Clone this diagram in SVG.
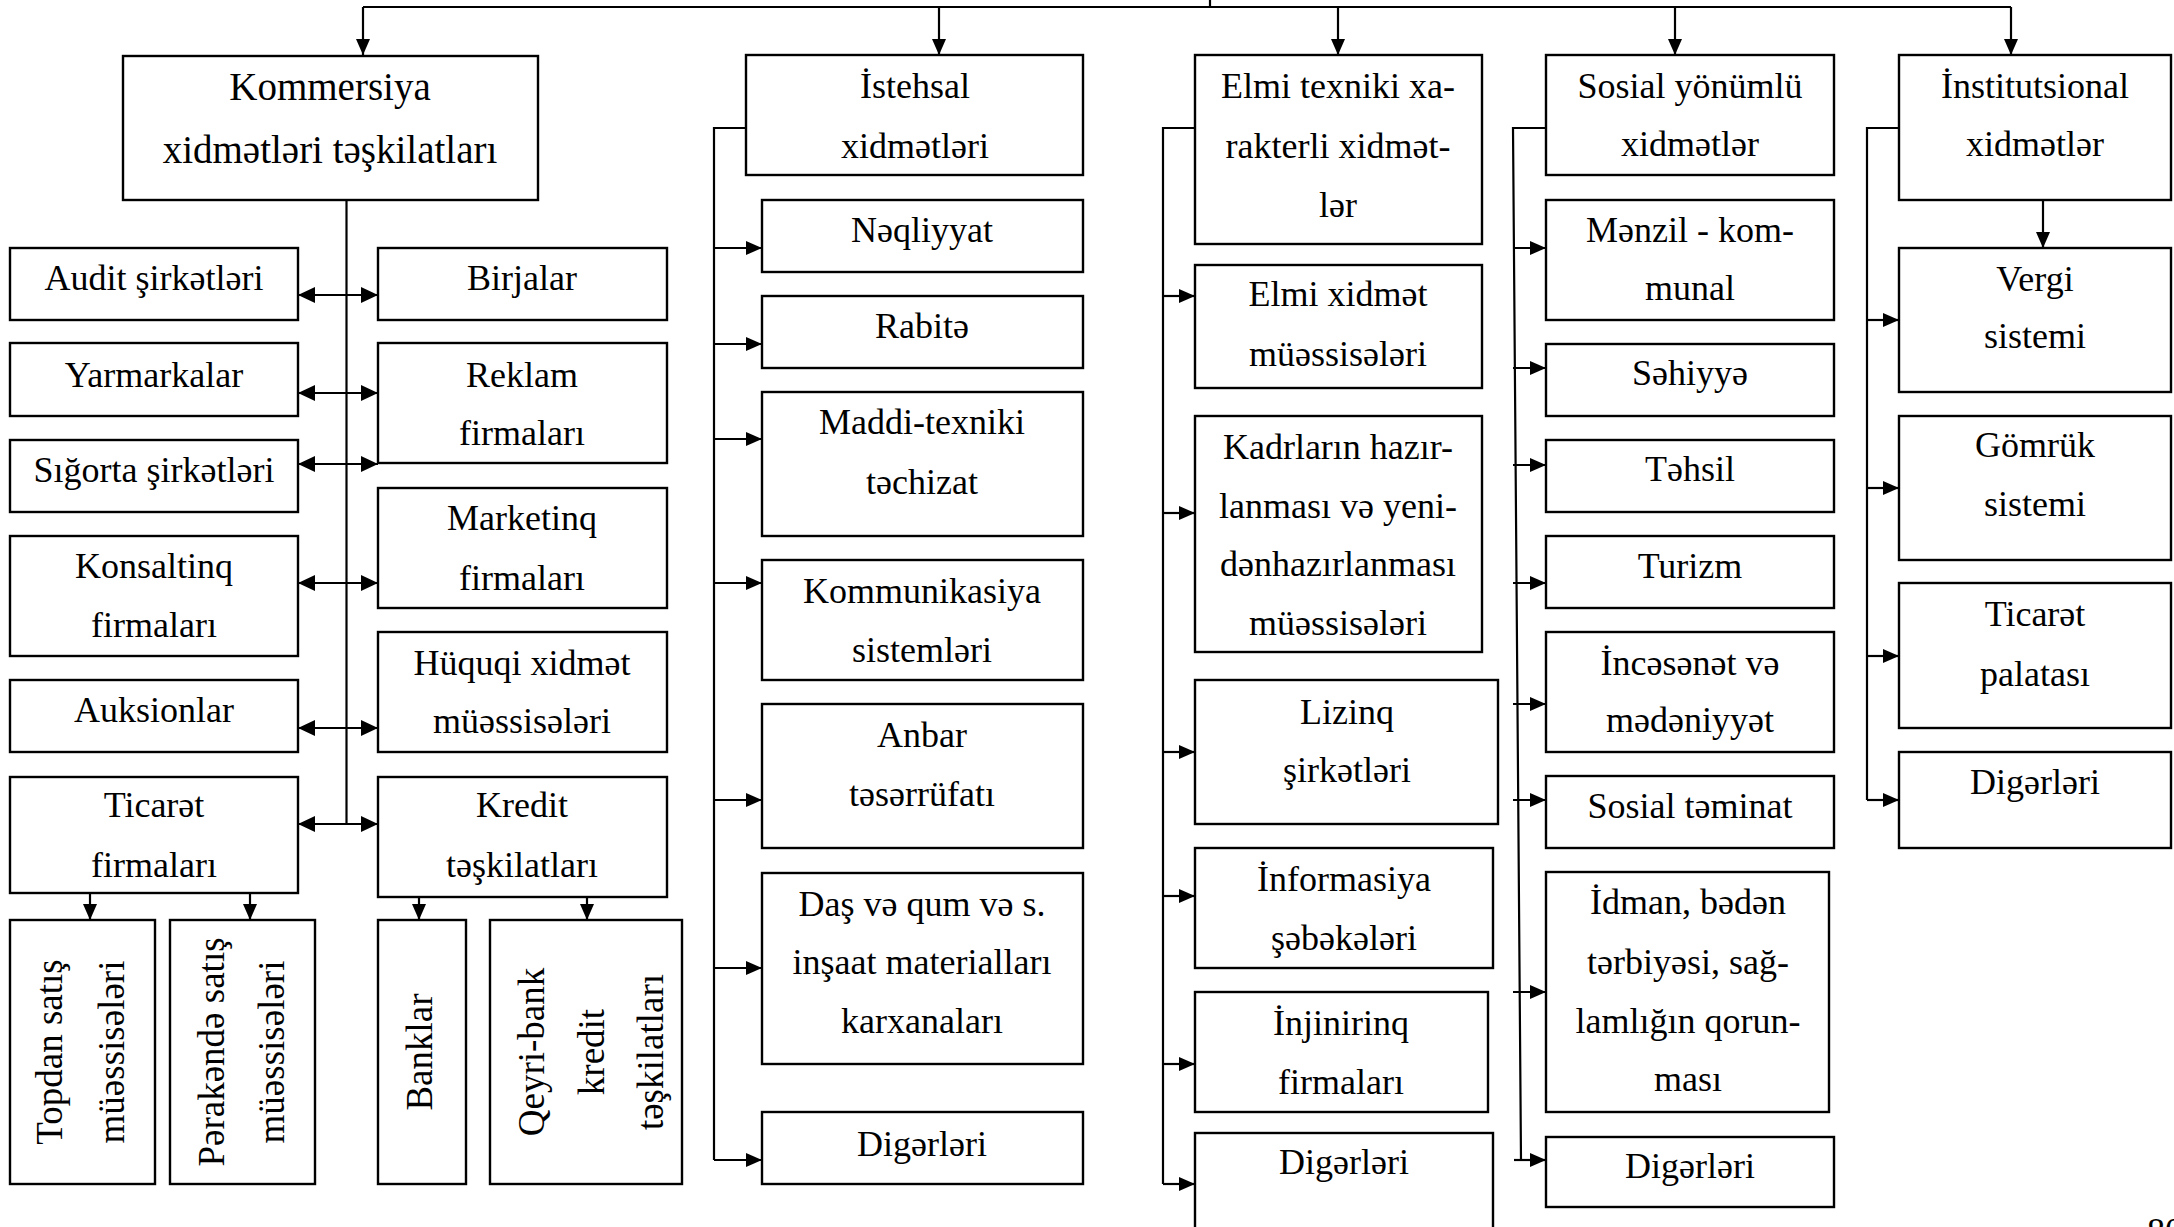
<svg xmlns="http://www.w3.org/2000/svg" width="2174" height="1227" viewBox="0 0 2174 1227">
<style>
.box{fill:#fff;stroke:#000;stroke-width:2.4}
.ln{fill:none;stroke:#000;stroke-width:2.2}
.ar{fill:none;stroke:#000;stroke-width:2.2;marker-end:url(#ah)}
.da{fill:none;stroke:#000;stroke-width:2.2;marker-start:url(#ah2);marker-end:url(#ah2)}
text{font-family:"Liberation Serif","Times New Roman",serif;font-size:36px;fill:#000;text-anchor:middle}
.big{font-size:39px}
.v{font-size:37px}
</style>
<defs>
<marker id="ah" markerUnits="userSpaceOnUse" markerWidth="16" markerHeight="14" refX="16" refY="7" orient="auto"><path d="M0,0 L16,7 L0,14 z" fill="#000"/></marker>
<marker id="ah2" markerUnits="userSpaceOnUse" markerWidth="17" markerHeight="16" refX="17" refY="8" orient="auto-start-reverse"><path d="M0,0 L17,8 L0,16 z" fill="#000"/></marker>
</defs>
<rect width="2174" height="1227" fill="#fff"/>

<g id="connectors">
<path class="ln" d="M363,7 H2011 M1210,0 V7"/>
<path class="ar" d="M363,7 V55"/>
<path class="ar" d="M939,7 V55"/>
<path class="ar" d="M1338,7 V55"/>
<path class="ar" d="M1675,7 V55"/>
<path class="ar" d="M2011,7 V55"/>
<!-- column 1 -->
<path class="ln" d="M346.5,200 V824"/>
<path class="da" d="M298,295 H378"/>
<path class="da" d="M298,393 H378"/>
<path class="da" d="M298,464 H378"/>
<path class="da" d="M298,583 H378"/>
<path class="da" d="M298,728 H378"/>
<path class="da" d="M298,824 H378"/>
<path class="ar" d="M90,893 V920"/>
<path class="ar" d="M250,893 V920"/>
<path class="ar" d="M419,897 V920"/>
<path class="ar" d="M587,897 V920"/>
<!-- column 2 -->
<path class="ln" d="M746,128 H714 V1160"/>
<path class="ar" d="M714,248 H762"/>
<path class="ar" d="M714,344 H762"/>
<path class="ar" d="M714,439 H762"/>
<path class="ar" d="M714,583 H762"/>
<path class="ar" d="M714,800 H762"/>
<path class="ar" d="M714,968 H762"/>
<path class="ar" d="M714,1160 H762"/>
<!-- column 3 -->
<path class="ln" d="M1195,128 H1163 V1184"/>
<path class="ar" d="M1163,296 H1195"/>
<path class="ar" d="M1163,513 H1195"/>
<path class="ar" d="M1163,752 H1195"/>
<path class="ar" d="M1163,896 H1195"/>
<path class="ar" d="M1163,1064 H1195"/>
<path class="ar" d="M1163,1184 H1195"/>
<!-- column 4 -->
<path class="ln" d="M1546,128 H1513 L1521,1160"/>
<path class="ar" d="M1513,248 H1546"/>
<path class="ar" d="M1513,368 H1546"/>
<path class="ar" d="M1513,465 H1546"/>
<path class="ar" d="M1513,583 H1546"/>
<path class="ar" d="M1513,704 H1546"/>
<path class="ar" d="M1513,800 H1546"/>
<path class="ar" d="M1513,992 H1546"/>
<path class="ar" d="M1514,1160 H1546"/>
<!-- column 5 -->
<path class="ar" d="M2043,200 V248"/>
<path class="ln" d="M1899,128 H1867 V800"/>
<path class="ar" d="M1867,320 H1899"/>
<path class="ar" d="M1867,488 H1899"/>
<path class="ar" d="M1867,656 H1899"/>
<path class="ar" d="M1867,800 H1899"/>
</g>

<!-- Column 1 -->
<g id="n-kommersiya"><rect class="box" x="123" y="56" width="415" height="144"/><text class="big" x="330" y="100">Kommersiya</text><text class="big" x="330" y="163">xidmətləri təşkilatları</text></g>
<g id="n-audit"><rect class="box" x="10" y="248" width="288" height="72"/><text x="154" y="290">Audit şirkətləri</text></g>
<g id="n-birjalar"><rect class="box" x="378" y="248" width="289" height="72"/><text x="522" y="290">Birjalar</text></g>
<g id="n-yarmarkalar"><rect class="box" x="10" y="343" width="288" height="73"/><text x="154" y="387">Yarmarkalar</text></g>
<g id="n-reklam"><rect class="box" x="378" y="343" width="289" height="120"/><text x="522" y="387">Reklam</text><text x="522" y="445">firmaları</text></g>
<g id="n-sigorta"><rect class="box" x="10" y="440" width="288" height="72"/><text x="154" y="482">Sığorta şirkətləri</text></g>
<g id="n-marketinq"><rect class="box" x="378" y="488" width="289" height="120"/><text x="522" y="530">Marketinq</text><text x="522" y="590">firmaları</text></g>
<g id="n-konsaltinq"><rect class="box" x="10" y="536" width="288" height="120"/><text x="154" y="578">Konsaltinq</text><text x="154" y="637">firmaları</text></g>
<g id="n-huquqi"><rect class="box" x="378" y="632" width="289" height="120"/><text x="522" y="675">Hüquqi xidmət</text><text x="522" y="733">müəssisələri</text></g>
<g id="n-auksionlar"><rect class="box" x="10" y="680" width="288" height="72"/><text x="154" y="722">Auksionlar</text></g>
<g id="n-ticaret"><rect class="box" x="10" y="777" width="288" height="116"/><text x="154" y="817">Ticarət</text><text x="154" y="877">firmaları</text></g>
<g id="n-kredit"><rect class="box" x="378" y="777" width="289" height="120"/><text x="522" y="817">Kredit</text><text x="522" y="877">təşkilatları</text></g>
<g id="n-topdan"><rect class="box" x="10" y="920" width="145" height="264"/><text class="v" transform="translate(62,1052) rotate(-90)">Topdan satış</text><text class="v" transform="translate(124,1052) rotate(-90)">müəssisələri</text></g>
<g id="n-perakende"><rect class="box" x="170" y="920" width="145" height="264"/><text class="v" transform="translate(224,1052) rotate(-90)">Pərakəndə satış</text><text class="v" transform="translate(284,1052) rotate(-90)">müəssisələri</text></g>
<g id="n-banklar"><rect class="box" x="378" y="920" width="88" height="264"/><text class="v" transform="translate(432,1052) rotate(-90)">Banklar</text></g>
<g id="n-qeyri"><rect class="box" x="490" y="920" width="192" height="264"/><text class="v" transform="translate(544,1052) rotate(-90)">Qeyri-bank</text><text class="v" transform="translate(604,1052) rotate(-90)">kredit</text><text class="v" transform="translate(663,1052) rotate(-90)">təşkilatları</text></g>

<!-- Column 2 -->
<g id="n-istehsal"><rect class="box" x="746" y="55" width="337" height="120"/><text x="915" y="98">İstehsal</text><text x="915" y="158">xidmətləri</text></g>
<g id="n-neqliyyat"><rect class="box" x="762" y="200" width="321" height="72"/><text x="922" y="242">Nəqliyyat</text></g>
<g id="n-rabite"><rect class="box" x="762" y="296" width="321" height="72"/><text x="922" y="338">Rabitə</text></g>
<g id="n-maddi"><rect class="box" x="762" y="392" width="321" height="144"/><text x="922" y="434">Maddi-texniki</text><text x="922" y="494">təchizat</text></g>
<g id="n-kommunikasiya"><rect class="box" x="762" y="560" width="321" height="120"/><text x="922" y="603">Kommunikasiya</text><text x="922" y="662">sistemləri</text></g>
<g id="n-anbar"><rect class="box" x="762" y="704" width="321" height="144"/><text x="922" y="747">Anbar</text><text x="922" y="806">təsərrüfatı</text></g>
<g id="n-das"><rect class="box" x="762" y="873" width="321" height="191"/><text x="922" y="916">Daş və qum və s.</text><text x="922" y="974">inşaat materialları</text><text x="922" y="1033">karxanaları</text></g>
<g id="n-diger2"><rect class="box" x="762" y="1112" width="321" height="72"/><text x="922" y="1156">Digərləri</text></g>

<!-- Column 3 -->
<g id="n-elmi"><rect class="box" x="1195" y="55" width="287" height="189"/><text x="1338" y="98">Elmi texniki xa-</text><text x="1338" y="158">rakterli xidmət-</text><text x="1338" y="217">lər</text></g>
<g id="n-elmixidmet"><rect class="box" x="1195" y="265" width="287" height="123"/><text x="1338" y="306">Elmi xidmət</text><text x="1338" y="366">müəssisələri</text></g>
<g id="n-kadr"><rect class="box" x="1195" y="416" width="287" height="236"/><text x="1338" y="459">Kadrların hazır-</text><text x="1338" y="518">lanması və yeni-</text><text x="1338" y="576">dənhazırlanması</text><text x="1338" y="635">müəssisələri</text></g>
<g id="n-lizinq"><rect class="box" x="1195" y="680" width="303" height="144"/><text x="1347" y="724">Lizinq</text><text x="1347" y="782">şirkətləri</text></g>
<g id="n-informasiya"><rect class="box" x="1195" y="848" width="298" height="120"/><text x="1344" y="891">İnformasiya</text><text x="1344" y="950">şəbəkələri</text></g>
<g id="n-injinirinq"><rect class="box" x="1195" y="992" width="293" height="120"/><text x="1341" y="1035">İnjinirinq</text><text x="1341" y="1094">firmaları</text></g>
<g id="n-diger3"><rect class="box" x="1195" y="1133" width="298" height="110"/><text x="1344" y="1174">Digərləri</text></g>

<!-- Column 4 -->
<g id="n-sosial"><rect class="box" x="1546" y="55" width="288" height="120"/><text x="1690" y="98">Sosial yönümlü</text><text x="1690" y="156">xidmətlər</text></g>
<g id="n-menzil"><rect class="box" x="1546" y="200" width="288" height="120"/><text x="1690" y="242">Mənzil - kom-</text><text x="1690" y="300">munal</text></g>
<g id="n-sehiyye"><rect class="box" x="1546" y="344" width="288" height="72"/><text x="1690" y="385">Səhiyyə</text></g>
<g id="n-tehsil"><rect class="box" x="1546" y="440" width="288" height="72"/><text x="1690" y="481">Təhsil</text></g>
<g id="n-turizm"><rect class="box" x="1546" y="536" width="288" height="72"/><text x="1690" y="578">Turizm</text></g>
<g id="n-incesenet"><rect class="box" x="1546" y="632" width="288" height="120"/><text x="1690" y="675">İncəsənət və</text><text x="1690" y="732">mədəniyyət</text></g>
<g id="n-sosialteminat"><rect class="box" x="1546" y="776" width="288" height="72"/><text x="1690" y="818">Sosial təminat</text></g>
<g id="n-idman"><rect class="box" x="1546" y="872" width="283" height="240"/><text x="1688" y="914">İdman, bədən</text><text x="1688" y="974">tərbiyəsi, sağ-</text><text x="1688" y="1033">lamlığın qorun-</text><text x="1688" y="1091">ması</text></g>
<g id="n-diger4"><rect class="box" x="1546" y="1137" width="288" height="70"/><text x="1690" y="1178">Digərləri</text></g>

<!-- Column 5 -->
<g id="n-institut"><rect class="box" x="1899" y="55" width="272" height="145"/><text x="2035" y="98">İnstitutsional</text><text x="2035" y="156">xidmətlər</text></g>
<g id="n-vergi"><rect class="box" x="1899" y="248" width="272" height="144"/><text x="2035" y="291">Vergi</text><text x="2035" y="348">sistemi</text></g>
<g id="n-gomruk"><rect class="box" x="1899" y="416" width="272" height="144"/><text x="2035" y="457">Gömrük</text><text x="2035" y="516">sistemi</text></g>
<g id="n-ticaretpalatasi"><rect class="box" x="1899" y="583" width="272" height="145"/><text x="2035" y="626">Ticarət</text><text x="2035" y="686">palatası</text></g>
<g id="n-diger5"><rect class="box" x="1899" y="752" width="272" height="96"/><text x="2035" y="794">Digərləri</text></g>

<text x="2147" y="1243" style="text-anchor:start">80</text>
</svg>
